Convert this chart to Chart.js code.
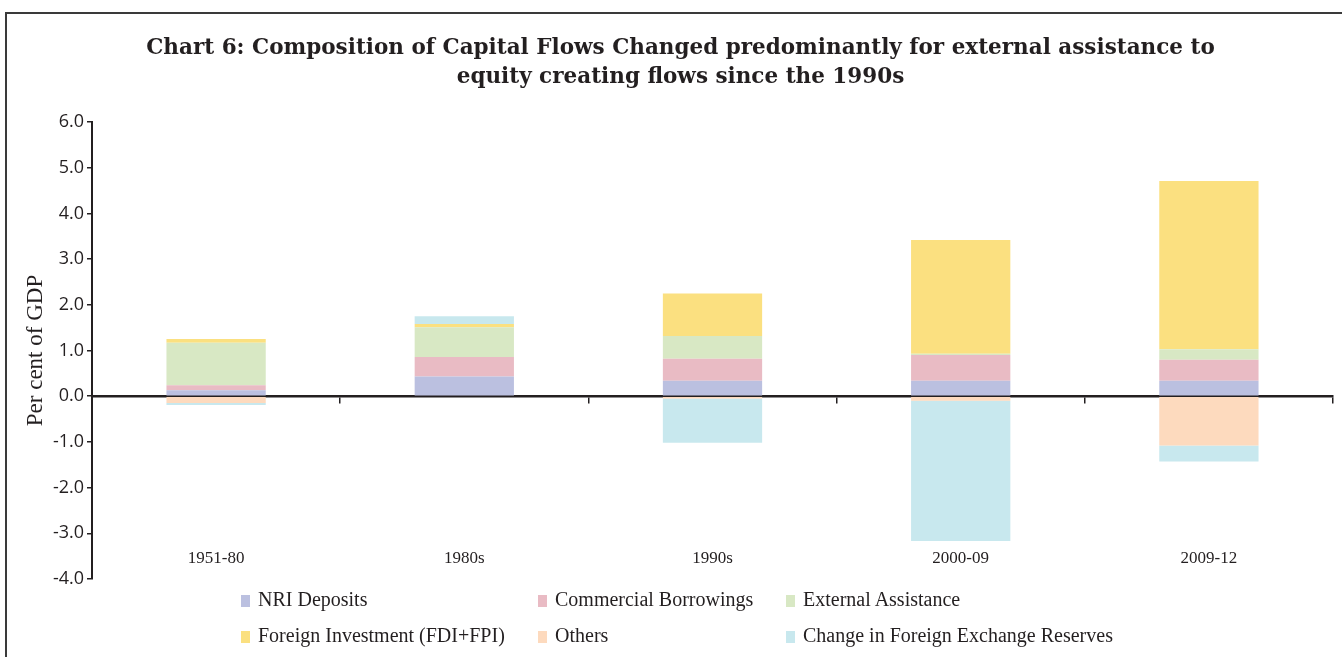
<!DOCTYPE html>
<html>
<head>
<meta charset="utf-8">
<script src="https://cdn.jsdelivr.net/npm/chart.js@4.4.1/dist/chart.umd.min.js"></script>
<style>
html,body{margin:0;padding:0;background:#fff;}
#wrap{position:relative;width:1342px;height:657px;overflow:hidden;background:#fff;}
#frame{position:absolute;left:5px;top:12px;width:1400px;height:700px;border-left:2px solid #3a3a3a;border-top:2px solid #3a3a3a;}
#c{position:absolute;left:0;top:0;}
.leg{position:absolute;font-family:"Liberation Serif",serif;font-size:20px;color:#231f20;white-space:nowrap;line-height:24px;}
.leg i{display:inline-block;width:9px;height:12px;margin-right:8px;vertical-align:-1px;}
</style>
</head>
<body>
<div id="wrap">
  <div id="frame"></div>
  <canvas id="c" width="1342" height="657"></canvas>
  <div id="legend"></div>
</div>
<script>
const categories = ['1951-80', '1980s', '1990s', '2000-09', '2009-12'];
const nriDeposits        = [0.13, 0.43, 0.34, 0.34, 0.34];
const commercialBorrow   = [0.11, 0.43, 0.48, 0.56, 0.46];
const externalAssistance = [0.93, 0.65, 0.50, 0.03, 0.23];
const foreignInvestment  = [0.08, 0.07, 0.93, 2.49, 3.68];
const others             = [-0.15, 0.00, -0.05, -0.10, -1.08];
const reserveChange      = [-0.04, 0.17, -0.97, -3.07, -0.35];
const yTickLabels = ['-4.0','-3.0','-2.0','-1.0','0.0','1.0','2.0','3.0','4.0','5.0','6.0'];
const titleLines = ['Chart 6: Composition of Capital Flows Changed predominantly for external assistance to',
                    'equity creating flows since the 1990s'];

const seriesNames = ['NRI Deposits', 'Commercial Borrowings', 'External Assistance',
  'Foreign Investment (FDI+FPI)', 'Others', 'Change in Foreign Exchange Reserves'];
const seriesValues = [nriDeposits, commercialBorrow, externalAssistance, foreignInvestment, others, reserveChange];
const seriesColors = ['#bbc0e0', '#e9bbc4', '#d8e8c4', '#fbe080', '#fddabe', '#c8e8ee'];

const ink = '#231f20';

const chart = new Chart(document.getElementById('c'), {
  type: 'bar',
  data: {
    labels: categories,
    datasets: seriesNames.map((n, i) => ({
      label: n,
      data: seriesValues[i],
      backgroundColor: seriesColors[i],
      borderWidth: 0,
      barPercentage: 0.8,
      categoryPercentage: 0.5,
      xAxisID: 'x',
      yAxisID: 'y'
    }))
  },
  options: {
    responsive: false,
    animation: false,
    layout: { padding: { left: 28, right: 9, top: 0, bottom: 78 } },
    plugins: {
      legend: { display: false },
      tooltip: { enabled: false },
      title: {
        display: true,
        text: titleLines,
        color: ink,
        font: { family: 'DejaVu Serif', size: 21.5, weight: 'bold', lineHeight: 1.35 },
        padding: { top: 34, bottom: 30 }
      }
    },
    scales: {
      x: {
        type: 'category',
        stacked: true,
        position: { y: 0 },
        offset: true,
        grid: { offset: true, drawOnChartArea: false, drawTicks: true, tickLength: 6, color: ink, lineWidth: 1.5 },
        border: { display: true, color: ink, width: 2.5 },
        ticks: { display: false }
      },
      x2: {
        type: 'category',
        position: { y: -3.33 },
        offset: true,
        grid: { display: false, drawTicks: false },
        border: { display: false },
        ticks: { color: ink, padding: 0, font: { family: 'Liberation Serif', size: 17 } }
      },
      y: {
        stacked: true,
        position: 'left',
        min: -4,
        max: 6,
        ticks: {
          stepSize: 1,
          color: ink,
          padding: 3,
          font: { family: 'Open Sans', size: 18 },
          callback: (v) => yTickLabels[Math.round(v) + 4]
        },
        grid: { drawOnChartArea: false, drawTicks: true, tickLength: 5, color: ink, lineWidth: 1.5 },
        border: { display: true, color: ink, width: 2 },
        title: {
          display: true,
          text: 'Per cent of GDP',
          color: ink,
          font: { family: 'Liberation Serif', size: 23 },
          padding: { top: -6, bottom: 0 }
        },
        afterFit: (s) => { s.width = 64; }
      }
    }
  }
});

// legend (HTML text), arranged in three aligned columns as in the reference
const legendPos = [[241, 587], [538, 587], [786, 587], [241, 623], [538, 623], [786, 623]];
const legendEl = document.getElementById('legend');
seriesNames.forEach((n, i) => {
  const d = document.createElement('div');
  d.className = 'leg';
  d.style.left = legendPos[i][0] + 'px';
  d.style.top = legendPos[i][1] + 'px';
  d.innerHTML = '<i style="background:' + seriesColors[i] + '"></i>' + n;
  legendEl.appendChild(d);
});
</script>
</body>
</html>
